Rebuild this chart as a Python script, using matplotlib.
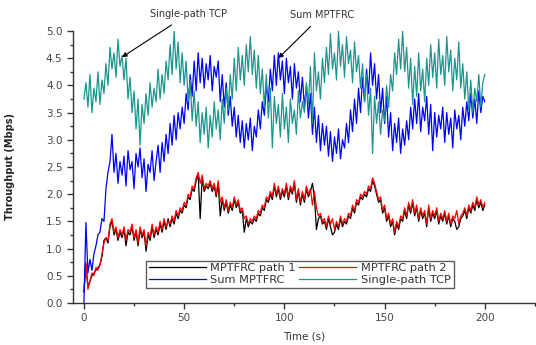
import numpy as np
import matplotlib.pyplot as plt
from matplotlib.ticker import MultipleLocator

# tiempo (s), un punto por segundo
time_s = np.arange(0, 201)

tcp = [
    3.75, 4.05, 3.6, 4.2, 3.5, 3.95, 3.7, 4.25, 3.65, 4.1,
    3.85, 4.4, 4.0, 4.7, 4.3, 4.6, 4.15, 4.85, 4.35, 4.55,
    4.1, 4.5, 3.75, 4.15, 3.5, 3.9, 3.2, 3.75, 2.9, 3.65,
    3.3, 3.85, 3.45, 4.05, 3.6, 3.95, 3.7, 4.3, 3.75, 4.2,
    3.85, 4.45, 4.1, 4.75, 4.2, 5.0, 4.3, 4.8, 4.05, 4.6,
    4.0, 4.45, 3.7, 4.1, 3.35, 3.9, 3.25, 3.7, 2.95, 3.5,
    3.1, 3.6, 2.85, 3.45, 3.05, 3.7, 3.2, 3.55, 3.0, 3.75,
    3.3, 3.95, 3.55, 4.2, 3.75, 4.5, 3.9, 4.7, 4.1, 4.55,
    4.0, 4.75, 4.25, 4.9, 4.2, 4.65, 3.95, 4.55, 3.85, 4.3,
    3.6, 4.2, 3.4, 3.95, 2.85, 3.8, 3.3, 3.65, 3.05, 3.85,
    3.2, 3.6, 2.95, 3.75, 3.3, 3.55, 3.1, 3.9, 3.4, 3.7,
    3.5, 4.05, 3.65, 4.35, 3.3, 4.6, 3.9, 4.25, 3.75, 4.5,
    4.05, 4.7, 4.2, 4.95, 4.3, 4.6, 4.1, 5.0, 4.35, 4.75,
    4.15, 4.9, 4.4, 4.65, 4.05, 4.8, 4.25, 4.55, 3.95, 4.4,
    3.7, 4.2, 3.45, 3.95, 2.75, 3.8, 3.3, 3.7, 3.1, 3.55,
    3.35, 4.0, 3.6, 4.2, 3.9, 4.6, 4.2, 4.85, 4.3, 5.0,
    4.25, 4.7, 3.95, 4.5, 3.65, 4.35, 3.8, 4.6, 3.9, 4.3,
    3.7, 4.5, 4.0, 4.75, 4.15, 4.6, 3.95, 4.85, 4.2, 4.55,
    4.0, 4.9, 4.25, 4.65, 3.9, 4.5, 4.1, 4.8, 3.95, 4.4,
    3.75, 4.25, 3.55, 4.1, 3.5, 3.95, 3.7, 4.2, 3.6, 4.05,
    4.2,
]

sum_mptfrc = [
    0.0, 1.48, 0.55, 0.8, 0.6, 0.9, 1.05, 1.25, 1.3, 1.55,
    1.5, 2.1, 2.4, 2.6, 3.1, 2.4, 2.75, 2.2, 2.6, 2.35,
    2.7, 2.15, 2.8, 2.45, 2.6, 2.1, 2.75, 2.5, 2.85, 2.3,
    2.65, 2.05, 2.55, 2.4, 2.8, 2.25, 2.6, 2.9, 2.4, 2.95,
    2.6, 3.1, 2.75, 3.3, 2.9, 3.45, 3.0, 3.5, 3.2, 3.6,
    3.3, 3.85, 3.55, 4.2, 3.8, 4.45, 3.9, 4.6, 4.05, 4.5,
    3.95, 4.4, 4.1, 4.55, 3.9, 4.35, 4.15, 4.45, 3.7, 4.2,
    3.6, 4.05, 3.45, 3.8, 3.25, 3.6, 3.05, 3.45, 2.95, 3.35,
    2.85, 3.3, 3.0, 3.4, 2.8, 3.25, 3.05, 3.55, 3.2, 3.7,
    3.45, 4.0, 3.7, 4.3, 3.9, 4.55, 4.0, 4.6, 4.1, 4.45,
    3.85, 4.5, 4.05, 4.35, 3.75, 4.4, 3.95, 4.25, 3.7, 4.15,
    3.6, 4.0, 3.4, 3.85, 3.1, 3.6, 2.95, 3.45, 2.8, 3.3,
    2.9, 3.25, 2.7, 3.15, 2.6, 3.05, 2.75, 3.2, 2.65, 3.0,
    2.85, 3.3, 2.95, 3.55, 3.15, 3.75, 3.3, 3.95, 3.5, 4.15,
    3.7, 4.3, 3.85, 4.6, 4.0, 4.4, 3.75, 4.2, 3.5, 3.95,
    3.3, 3.8, 3.05, 3.5, 2.8, 3.3, 2.95, 3.4, 2.75, 3.2,
    2.9, 3.35, 3.0, 3.6, 3.2, 3.75, 3.3, 3.85, 3.15, 3.6,
    3.35, 3.8, 3.1, 3.65, 2.8, 3.5, 3.05, 3.45, 3.2, 3.6,
    2.95, 3.5, 3.1, 3.4, 2.85, 3.55, 3.2, 3.45, 3.0, 3.6,
    3.25, 3.7, 3.35, 3.85, 3.4, 3.75, 3.3, 3.9, 3.5, 3.8,
    3.7,
]

path1 = [
    0.2, 0.7, 0.3, 0.4, 0.5, 0.55, 0.6, 0.65, 0.7, 0.85,
    1.15, 1.2, 1.1, 1.4, 1.5, 1.25, 1.35, 1.15, 1.3, 1.2,
    1.35, 1.05, 1.3, 1.25, 1.4, 1.15, 1.3, 1.05, 1.35, 1.2,
    1.3, 0.95, 1.25, 1.15, 1.4, 1.2, 1.35, 1.25, 1.45, 1.3,
    1.5, 1.35, 1.55, 1.4, 1.55, 1.45, 1.65, 1.55, 1.7, 1.65,
    1.8, 1.75, 1.95, 1.9, 2.1, 2.05, 2.25, 2.35, 1.55, 2.3,
    2.05, 2.15, 2.1, 2.2, 2.05, 2.15, 1.95, 2.2, 1.6, 1.9,
    1.7, 1.85, 1.65, 1.8, 1.7, 1.9, 1.75, 1.85, 1.65, 1.7,
    1.3, 1.55, 1.4, 1.5, 1.45, 1.55, 1.5, 1.65, 1.6, 1.75,
    1.7, 1.9, 1.85, 2.0, 1.9, 2.15, 1.95, 2.1, 1.9, 2.05,
    1.95, 2.15, 1.9, 2.1, 2.0, 2.2, 1.85, 2.05, 1.8, 2.0,
    1.85, 2.1, 1.95, 2.05, 2.2, 1.95, 1.35, 1.55, 1.6, 1.45,
    1.5, 1.35, 1.55, 1.4, 1.25, 1.3, 1.45, 1.35, 1.55, 1.4,
    1.5, 1.45, 1.6, 1.55, 1.75, 1.65, 1.85, 1.8, 1.95, 1.9,
    2.0, 1.95, 2.1, 2.05, 2.25, 2.15, 2.0, 1.85, 1.9, 1.65,
    1.75, 1.5, 1.6, 1.4, 1.5, 1.25, 1.45, 1.35, 1.55, 1.5,
    1.7, 1.55, 1.8, 1.65, 1.85, 1.6, 1.75, 1.5, 1.7, 1.55,
    1.65, 1.4, 1.75, 1.5, 1.65, 1.55, 1.7, 1.45, 1.6, 1.5,
    1.65, 1.45, 1.6, 1.4, 1.55, 1.5, 1.35, 1.4, 1.55, 1.6,
    1.7, 1.55, 1.75, 1.65, 1.8, 1.7, 1.9, 1.75, 1.85, 1.7,
    1.8,
]

path2 = [
    0.2, 0.75, 0.25, 0.4, 0.55, 0.5, 0.65, 0.6, 0.7, 0.9,
    1.1, 1.2, 1.15, 1.45, 1.55, 1.3, 1.4, 1.2, 1.35, 1.25,
    1.4, 1.15, 1.35, 1.3, 1.45, 1.2, 1.35, 1.1, 1.4, 1.25,
    1.35, 1.05, 1.3, 1.2, 1.45, 1.25, 1.4, 1.3, 1.5, 1.35,
    1.55, 1.4, 1.5, 1.45, 1.6, 1.5, 1.7, 1.6, 1.75, 1.7,
    1.85, 1.8, 2.0, 1.95, 2.15, 2.1, 2.3, 2.4, 2.2, 2.35,
    2.1, 2.2, 2.15, 2.25, 2.1, 2.2, 2.0, 2.25, 1.85, 1.95,
    1.75, 1.9, 1.7, 1.85, 1.75, 1.95, 1.8, 1.9, 1.7, 1.75,
    1.55, 1.6, 1.45, 1.55, 1.5, 1.6, 1.55, 1.7, 1.65, 1.8,
    1.75, 1.95, 1.9, 2.05, 1.95, 2.2, 2.0, 2.15, 1.95, 2.1,
    2.0, 2.2, 1.95, 2.15, 2.05, 2.25, 1.9, 2.1, 1.85, 2.05,
    1.9, 2.15, 2.0, 2.1, 1.8, 2.05, 1.75, 1.6, 1.65, 1.5,
    1.55, 1.4, 1.6, 1.45, 1.55, 1.35, 1.5, 1.4, 1.6, 1.45,
    1.55, 1.5, 1.65, 1.6, 1.8, 1.7, 1.9, 1.85, 2.0, 1.95,
    2.05, 2.0, 2.15, 2.1, 2.3, 2.2, 2.05, 1.9, 1.95, 1.7,
    1.8, 1.55, 1.65, 1.45, 1.55, 1.3, 1.5, 1.4, 1.6, 1.55,
    1.75, 1.6, 1.85, 1.7, 1.9, 1.65, 1.8, 1.55, 1.75, 1.6,
    1.7, 1.45, 1.8, 1.55, 1.7, 1.6, 1.75, 1.5, 1.65, 1.55,
    1.7, 1.5, 1.65, 1.45, 1.6, 1.55, 1.7, 1.45, 1.6, 1.65,
    1.75, 1.6, 1.8, 1.7, 1.85, 1.75, 1.95, 1.8, 1.9, 1.75,
    1.85,
]

c_teal = '#1a968f'
c_blue = '#0000ff'
c_red = '#ff0000'
c_axis = '#333333'

fig = plt.figure(figsize=(5.36, 3.45), dpi=100)
ax = fig.add_axes([0.136, 0.122, 0.862, 0.788])

l1, = ax.plot(time_s, path1, color='black', lw=0.9)
l2, = ax.plot(time_s, path2, color=c_red, lw=0.9)
l3, = ax.plot(time_s, sum_mptfrc, color=c_blue, lw=0.9)
l4, = ax.plot(time_s, tcp, color=c_teal, lw=0.9)

ax.set_xlim(-5.5, 225)
ax.set_ylim(0, 5.0)
ax.xaxis.set_major_locator(MultipleLocator(50))
ax.xaxis.set_minor_locator(MultipleLocator(25))
ax.yaxis.set_major_locator(MultipleLocator(0.5))
ax.yaxis.set_minor_locator(MultipleLocator(0.25))
ax.yaxis.set_major_formatter(plt.FormatStrFormatter('%.1f'))

for s in ['top', 'right']:
    ax.spines[s].set_visible(False)
for s in ['left', 'bottom']:
    ax.spines[s].set_color(c_axis)
    ax.spines[s].set_linewidth(1.0)

ax.tick_params(which='major', direction='out', length=4, width=1,
               colors=c_axis, labelsize=7.5, labelcolor='#444444')
ax.tick_params(which='minor', direction='out', length=2.5, width=1,
               colors=c_axis)

ax.set_xlabel('Time (s)', fontsize=7.5, color='#333333', labelpad=6)
ax.set_ylabel('Throughput (Mbps)', fontsize=7, color='#222222',
              fontweight='bold', labelpad=22)

# orden por columnas: fila 1 = path 1, path 2 ; fila 2 = Sum, TCP
leg = ax.legend([l1, l3, l2, l4],
                ['MPTFRC path 1', 'Sum MPTFRC', 'MPTFRC path 2', 'Single-path TCP'],
                ncol=2, loc='lower left', bbox_to_anchor=(0.158, 0.055),
                fontsize=8.2, frameon=True, fancybox=False,
                handlelength=5.0, handletextpad=0.4, columnspacing=0.3,
                borderpad=0.25, labelspacing=0.15, borderaxespad=0)
leg.get_frame().set_edgecolor('#333333')
leg.get_frame().set_linewidth(1.0)
for t in leg.get_texts():
    t.set_color('#333333')

ax.annotate('Single-path TCP', xy=(19, 4.52), xytext=(52, 5.31),
            fontsize=7, color='#333333', ha='center', va='center',
            annotation_clip=False,
            arrowprops=dict(arrowstyle='-|>', color='black', lw=0.8,
                            mutation_scale=7, shrinkA=4, shrinkB=0))
ax.annotate('Sum MPTFRC', xy=(97, 4.5), xytext=(119, 5.3),
            fontsize=7, color='#333333', ha='center', va='center',
            annotation_clip=False,
            arrowprops=dict(arrowstyle='-|>', color='black', lw=0.8,
                            mutation_scale=7, shrinkA=4, shrinkB=0))

fig.savefig('out.png', dpi=100)
